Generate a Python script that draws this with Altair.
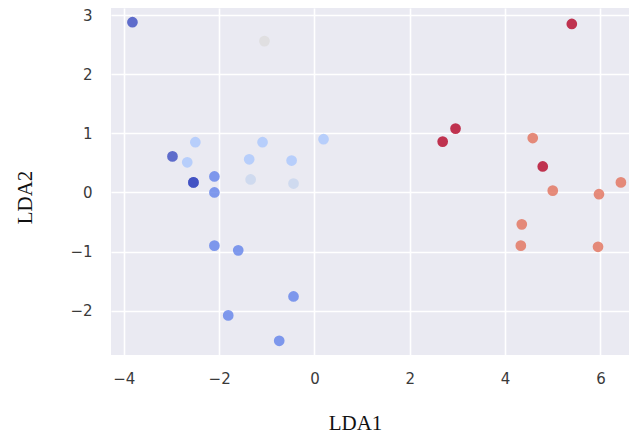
import altair as alt
import pandas as pd

lda1 = [-3.82, -1.05, -2.98, -2.50, -2.67, -2.54, -2.54, -2.10, -2.10, -1.37,
        -1.09, -1.34, -0.48, -0.44, 0.19, -2.10, -1.60, -0.44, -1.81, -0.74,
        5.40, 2.96, 2.69, 4.58, 4.79, 5.00, 5.97, 6.43, 4.35, 4.33, 5.95]
lda2 = [2.88, 2.56, 0.61, 0.85, 0.51, 0.17, 0.17, 0.27, 0.00, 0.56,
        0.85, 0.22, 0.54, 0.15, 0.90, -0.90, -0.98, -1.76, -2.08, -2.51,
        2.85, 1.08, 0.86, 0.92, 0.44, 0.03, -0.03, 0.17, -0.54, -0.90, -0.92]
group = ["a", "d", "a", "c", "c", "a", "a", "b", "b", "c",
         "c", "e", "c", "e", "c", "b", "b", "b", "b", "b",
         "g", "g", "g", "f", "g", "f", "f", "f", "f", "f", "f"]

group_names = ["a", "b", "c", "d", "e", "f", "g"]
group_colors = ["#3b4cc0", "#6282ea", "#aac7fd", "#dddcdc", "#c8d6ee", "#e2705a", "#b40426"]

x_ticks = [-4, -2, 0, 2, 4, 6]
y_ticks = [-2, -1, 0, 1, 2, 3]

df = pd.DataFrame({"LDA1": lda1, "LDA2": lda2, "group": group})

chart = alt.Chart(df).mark_circle(size=115, opacity=0.8).encode(
    x=alt.X("LDA1:Q", scale=alt.Scale(domain=[-4.27, 6.60], nice=False, zero=False),
            axis=alt.Axis(values=x_ticks, title="LDA1", titleX=244, titleY=78,
                          titleBaseline="bottom", labelPadding=16)),
    y=alt.Y("LDA2:Q", scale=alt.Scale(domain=[-2.75, 3.12], nice=False, zero=False),
            axis=alt.Axis(values=y_ticks, title="LDA2", titleX=-86, titleY=189,
                          titleBaseline="middle", labelPadding=19)),
    color=alt.Color("group:N", scale=alt.Scale(domain=group_names, range=group_colors), legend=None),
).properties(
    width=518, height=347, autosize="none",
    padding={"left": 103, "top": 0, "right": 0, "bottom": 78},
).configure_view(
    fill="#eaeaf2", stroke=None
).configure_axis(
    grid=True, gridColor="white", gridWidth=1.6, domain=False, ticks=False,
    labelFont="DejaVu Sans", labelFontSize=15, labelColor="#3a3a3a",
    titleFont="Liberation Serif", titleFontSize=21, titleFontWeight="normal", titleColor="#111111",
)

chart.save("out.html", embed_options={"renderer": "svg", "actions": False})
